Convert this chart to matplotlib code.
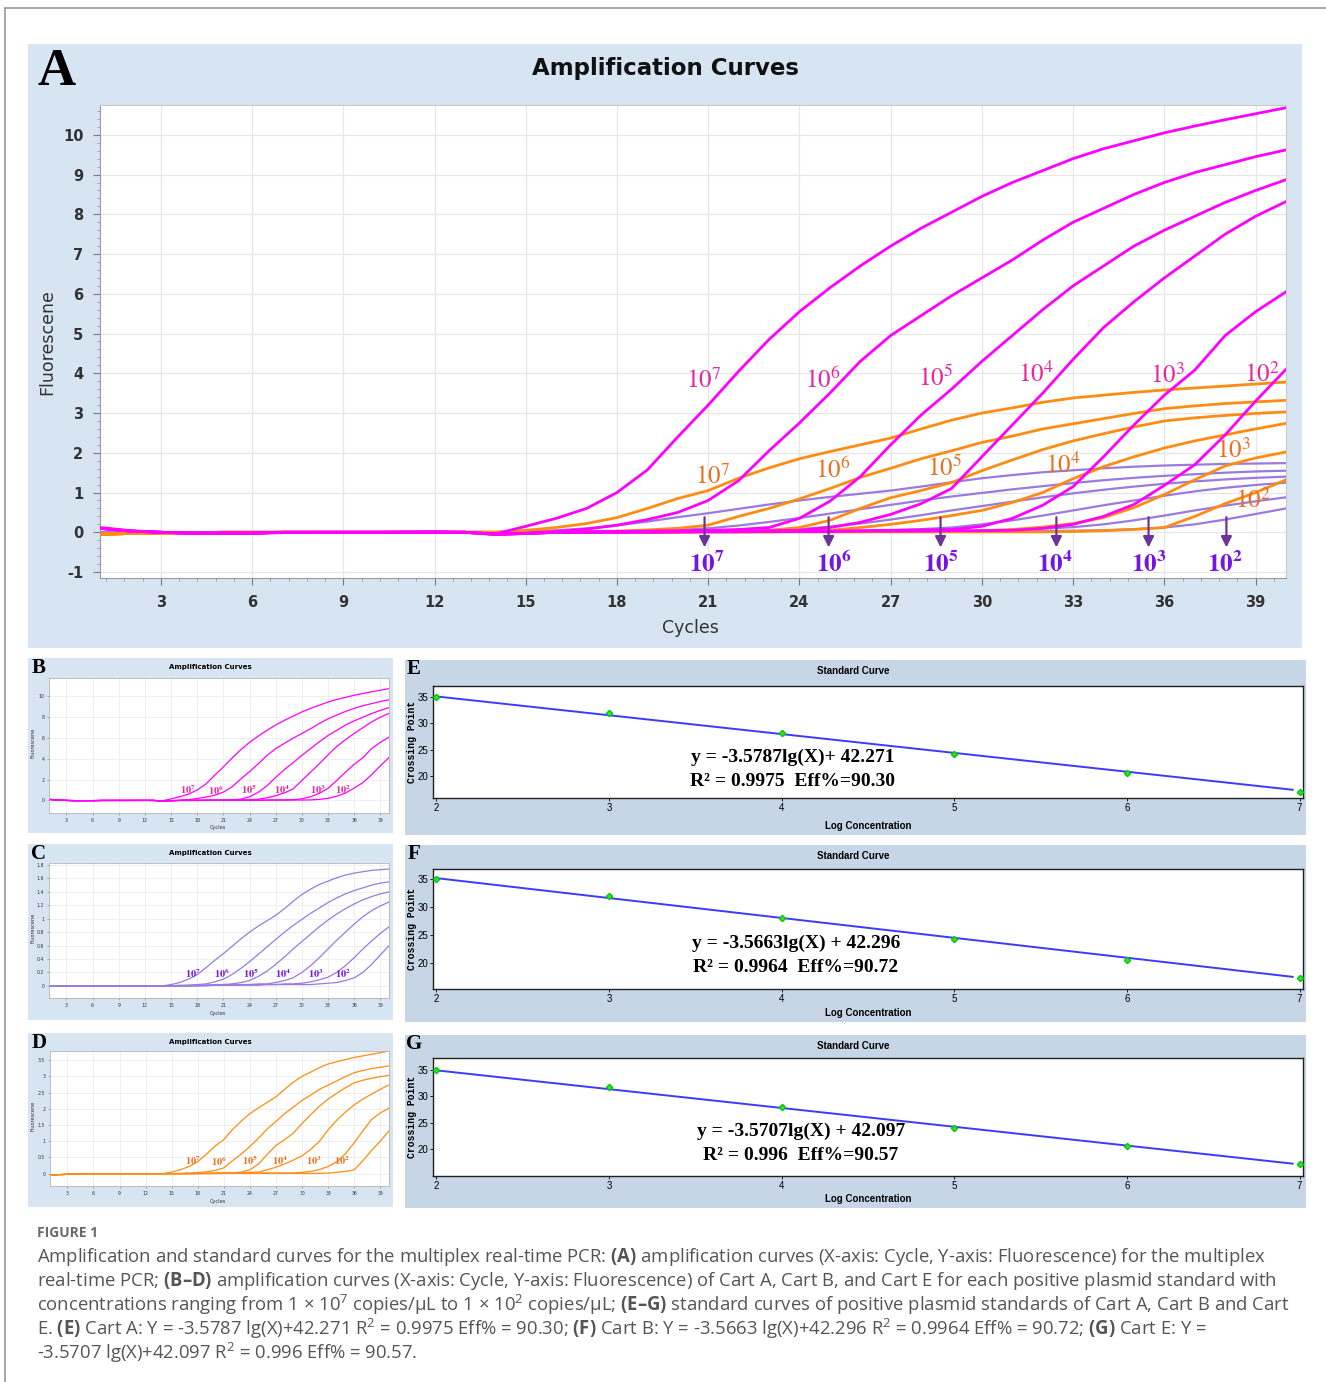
"""Recreation of a multiplex real-time PCR figure: amplification curves (A-D)
and standard curves (E-G) with the caption underneath."""

import matplotlib.pyplot as plt
from matplotlib.patches import Rectangle
from matplotlib.lines import Line2D
from matplotlib.ticker import AutoMinorLocator, FuncFormatter

W, H = 1326, 1382

plt.rcParams["mathtext.fontset"] = "custom"
plt.rcParams["mathtext.rm"] = "Open Sans"
plt.rcParams["mathtext.bf"] = "Open Sans:bold"
plt.rcParams["mathtext.it"] = "Open Sans:italic"
plt.rcParams["axes.unicode_minus"] = False

# ---------------------------------------------------------------- data
CYCLES = list(range(1, 41))
EXPONENTS = [7, 6, 5, 4, 3, 2]

# Cart A (magenta), fluorescence per cycle, 10^7 ... 10^2
CART_A = [
    [0.12, 0.04, 0.0, -0.03, -0.02, -0.03, -0.01, 0.0, 0.0, 0.0, 0.01, 0.01, 0.0, -0.04,
     0.15, 0.35, 0.6, 1.0, 1.57, 2.4, 3.2, 4.05, 4.85, 5.55, 6.15, 6.7, 7.2, 7.65, 8.05, 8.45,
     8.8, 9.1, 9.4, 9.65, 9.85, 10.05, 10.22, 10.38, 10.53, 10.68],
    [0.1, 0.03, 0.0, -0.02, -0.02, -0.02, 0.0, 0.0, 0.0, 0.0, 0.0, 0.01, 0.0, -0.05,
     -0.02, 0.02, 0.08, 0.18, 0.32, 0.5, 0.8, 1.3, 2.05, 2.75, 3.5, 4.3, 4.95, 5.45, 5.95, 6.4,
     6.85, 7.35, 7.8, 8.15, 8.5, 8.8, 9.05, 9.25, 9.45, 9.62],
    [0.1, 0.03, 0.0, -0.02, -0.02, -0.02, 0.0, 0.0, 0.0, 0.0, 0.0, 0.0, 0.0, -0.05,
     -0.03, 0.0, 0.01, 0.02, 0.03, 0.04, 0.05, 0.07, 0.12, 0.35, 0.78, 1.4, 2.2, 2.95, 3.6, 4.3,
     4.95, 5.6, 6.2, 6.7, 7.2, 7.6, 7.95, 8.3, 8.6, 8.87],
    [0.1, 0.03, 0.0, -0.02, -0.02, -0.02, 0.0, 0.0, 0.0, 0.0, 0.0, 0.0, 0.0, -0.05,
     -0.03, 0.0, 0.0, 0.01, 0.02, 0.02, 0.03, 0.03, 0.04, 0.05, 0.12, 0.25, 0.45, 0.72, 1.1, 1.9,
     2.7, 3.5, 4.35, 5.15, 5.8, 6.4, 6.95, 7.5, 7.95, 8.32],
    [0.1, 0.03, 0.0, -0.02, -0.02, -0.02, 0.0, 0.0, 0.0, 0.0, 0.0, 0.0, 0.0, -0.05,
     -0.03, 0.0, 0.0, 0.0, 0.01, 0.01, 0.02, 0.02, 0.02, 0.03, 0.03, 0.04, 0.05, 0.06, 0.07, 0.15,
     0.35, 0.68, 1.15, 1.9, 2.7, 3.45, 4.08, 4.95, 5.55, 6.05],
    [0.1, 0.03, 0.0, -0.02, -0.02, -0.02, 0.0, 0.0, 0.0, 0.0, 0.0, 0.0, 0.0, -0.05,
     -0.03, 0.0, 0.0, 0.0, 0.0, 0.01, 0.01, 0.01, 0.02, 0.02, 0.02, 0.03, 0.03, 0.03, 0.04, 0.04,
     0.05, 0.1, 0.2, 0.4, 0.7, 1.18, 1.7, 2.45, 3.3, 4.1],
]

# Cart B (purple)
CART_B = [
    [0.0, 0.0, 0.0, 0.0, 0.0, 0.0, 0.0, 0.0, 0.0, 0.0, 0.0, 0.0, 0.0, 0.0,
     0.02, 0.05, 0.1, 0.17, 0.27, 0.38, 0.48, 0.59, 0.7, 0.8, 0.89, 0.97, 1.05, 1.15, 1.26, 1.36,
     1.44, 1.51, 1.56, 1.61, 1.65, 1.68, 1.7, 1.72, 1.73, 1.74],
    [0.0, 0.0, 0.0, 0.0, 0.0, 0.0, 0.0, 0.0, 0.0, 0.0, 0.0, 0.0, 0.0, 0.0,
     0.0, 0.01, 0.01, 0.02, 0.03, 0.06, 0.1, 0.17, 0.26, 0.36, 0.47, 0.58, 0.69, 0.8, 0.9, 0.99,
     1.08, 1.16, 1.24, 1.31, 1.37, 1.42, 1.46, 1.5, 1.53, 1.55],
    [0.0, 0.0, 0.0, 0.0, 0.0, 0.0, 0.0, 0.0, 0.0, 0.0, 0.0, 0.0, 0.0, 0.0,
     0.0, 0.0, 0.01, 0.01, 0.01, 0.02, 0.02, 0.03, 0.05, 0.08, 0.14, 0.22, 0.32, 0.43, 0.55, 0.66,
     0.77, 0.88, 0.98, 1.07, 1.15, 1.22, 1.28, 1.33, 1.37, 1.4],
    [0.0, 0.0, 0.0, 0.0, 0.0, 0.0, 0.0, 0.0, 0.0, 0.0, 0.0, 0.0, 0.0, 0.0,
     0.0, 0.0, 0.0, 0.01, 0.01, 0.01, 0.02, 0.02, 0.02, 0.02, 0.03, 0.03, 0.05, 0.08, 0.12, 0.2,
     0.3, 0.42, 0.55, 0.68, 0.8, 0.92, 1.03, 1.12, 1.19, 1.25],
    [0.0, 0.0, 0.0, 0.0, 0.0, 0.0, 0.0, 0.0, 0.0, 0.0, 0.0, 0.0, 0.0, 0.0,
     0.0, 0.0, 0.0, 0.0, 0.01, 0.01, 0.01, 0.01, 0.02, 0.02, 0.02, 0.02, 0.02, 0.03, 0.03, 0.04,
     0.06, 0.09, 0.13, 0.2, 0.3, 0.42, 0.55, 0.67, 0.78, 0.88],
    [0.0, 0.0, 0.0, 0.0, 0.0, 0.0, 0.0, 0.0, 0.0, 0.0, 0.0, 0.0, 0.0, 0.0,
     0.0, 0.0, 0.0, 0.0, 0.0, 0.01, 0.01, 0.01, 0.01, 0.01, 0.01, 0.02, 0.02, 0.02, 0.02, 0.02,
     0.02, 0.03, 0.04, 0.05, 0.08, 0.12, 0.2, 0.32, 0.46, 0.6],
]

# Cart E (orange)
CART_E = [
    [-0.05, -0.03, -0.02, -0.01, 0.0, 0.0, 0.0, 0.0, 0.0, 0.0, 0.0, 0.0, 0.0, 0.0,
     0.05, 0.12, 0.22, 0.37, 0.6, 0.85, 1.05, 1.36, 1.62, 1.85, 2.03, 2.2, 2.37, 2.6, 2.82, 3.0,
     3.13, 3.27, 3.38, 3.45, 3.52, 3.58, 3.63, 3.68, 3.73, 3.78],
    [-0.05, -0.03, -0.02, -0.01, 0.0, 0.0, 0.0, 0.0, 0.0, 0.0, 0.0, 0.0, 0.0, 0.0,
     0.0, 0.01, 0.02, 0.03, 0.06, 0.1, 0.18, 0.4, 0.6, 0.84, 1.1, 1.38, 1.61, 1.85, 2.05, 2.26,
     2.42, 2.6, 2.73, 2.86, 2.99, 3.11, 3.18, 3.24, 3.28, 3.32],
    [-0.05, -0.03, -0.02, -0.01, 0.0, 0.0, 0.0, 0.0, 0.0, 0.0, 0.0, 0.0, 0.0, 0.0,
     0.0, 0.0, 0.01, 0.01, 0.01, 0.02, 0.02, 0.02, 0.05, 0.12, 0.3, 0.6, 0.87, 1.05, 1.25, 1.55,
     1.82, 2.08, 2.3, 2.48, 2.65, 2.8, 2.88, 2.94, 2.99, 3.03],
    [-0.05, -0.03, -0.02, -0.01, 0.0, 0.0, 0.0, 0.0, 0.0, 0.0, 0.0, 0.0, 0.0, 0.0,
     0.0, 0.0, 0.0, 0.01, 0.01, 0.01, 0.02, 0.02, 0.03, 0.04, 0.05, 0.12, 0.2, 0.3, 0.42, 0.55,
     0.75, 1.0, 1.35, 1.65, 1.9, 2.12, 2.3, 2.45, 2.6, 2.74],
    [-0.05, -0.03, -0.02, -0.01, 0.0, 0.0, 0.0, 0.0, 0.0, 0.0, 0.0, 0.0, 0.0, 0.0,
     0.0, 0.0, 0.0, 0.0, 0.01, 0.01, 0.01, 0.01, 0.01, 0.02, 0.02, 0.02, 0.02, 0.02, 0.02, 0.04,
     0.07, 0.13, 0.22, 0.37, 0.62, 0.95, 1.32, 1.67, 1.87, 2.02],
    [-0.05, -0.03, -0.02, -0.01, 0.0, 0.0, 0.0, 0.0, 0.0, 0.0, 0.0, 0.0, 0.0, 0.0,
     0.0, 0.0, 0.0, 0.0, 0.0, 0.0, 0.01, 0.01, 0.01, 0.01, 0.01, 0.01, 0.01, 0.01, 0.01, 0.01,
     0.01, 0.01, 0.02, 0.04, 0.07, 0.12, 0.4, 0.72, 1.0, 1.32],
]

# standard curves: log concentration vs crossing point
LOG_CONC = [2, 3, 4, 5, 6, 7]
CP_E = [35.0, 32.0, 28.2, 24.2, 20.6, 17.0]
CP_F = [35.0, 31.9, 28.1, 24.2, 20.5, 17.3]
CP_G = [35.0, 31.8, 28.0, 24.1, 20.6, 17.2]
FIT_E = (-3.5787, 42.271)
FIT_F = (-3.5663, 42.296)
FIT_G = (-3.5707, 42.097)
EQ_E = ["y = -3.5787lg(X)+ 42.271", "R² = 0.9975  Eff%=90.30"]
EQ_F = ["y = -3.5663lg(X) + 42.296", "R² = 0.9964  Eff%=90.72"]
EQ_G = ["y = -3.5707lg(X) + 42.097", "R² = 0.996  Eff%=90.57"]

CAPTION = [
    r"Amplification and standard curves for the multiplex real-time PCR: $\mathbf{(A)}$ "
    r"amplification curves (X-axis: Cycle, Y-axis: Fluorescence) for the multiplex",
    r"real-time PCR; $\mathbf{(B–D)}$ amplification curves (X-axis: Cycle, Y-axis: Fluorescence) "
    r"of Cart A, Cart B, and Cart E for each positive plasmid standard with",
    r"concentrations ranging from 1 × 10$^{7}$ copies/μL to 1 × 10$^{2}$ copies/μL; "
    r"$\mathbf{(E–G)}$ standard curves of positive plasmid standards of Cart A, Cart B and Cart",
    r"E. $\mathbf{(E)}$ Cart A: Y = -3.5787 lg(X)+42.271 R$^{2}$ = 0.9975 Eff% = 90.30; "
    r"$\mathbf{(F)}$ Cart B: Y = -3.5663 lg(X)+42.296 R$^{2}$ = 0.9964 Eff% = 90.72; "
    r"$\mathbf{(G)}$ Cart E: Y =",
    r"-3.5707 lg(X)+42.097 R$^{2}$ = 0.996 Eff% = 90.57.",
]

# ---------------------------------------------------------------- style
MAGENTA, ORANGE, PURPLE = "#ff00ff", "#ff8c12", "#9a7ae0"
MAG_TXT, ORA_TXT, PUR_TXT = "#e8259a", "#e8701e", "#7415e6"
ARROW_C = "#6a3596"
BG_A = "#d7e4f1"
BG_STD = "#c6d6e6"

fig = plt.figure(figsize=(W / 100, H / 100), dpi=100)


def px_axes(x0, y0, x1, y1):
    return fig.add_axes([x0 / W, 1 - y1 / H, (x1 - x0) / W, (y1 - y0) / H])


def px_rect(x0, y0, x1, y1, color):
    fig.add_artist(Rectangle((x0 / W, 1 - y1 / H), (x1 - x0) / W, (y1 - y0) / H,
                             transform=fig.transFigure, facecolor=color,
                             edgecolor="none", zorder=-5))


def px_text(x, y, s, **kw):
    return fig.text(x / W, 1 - y / H, s, **kw)


def draw_curves(ax, lw):
    for ys in CART_B:
        ax.plot(CYCLES, ys, color=PURPLE, lw=lw * 0.8, zorder=3)
    for ys in CART_E:
        ax.plot(CYCLES, ys, color=ORANGE, lw=lw, zorder=4)
    for ys in CART_A:
        ax.plot(CYCLES, ys, color=MAGENTA, lw=lw, zorder=5)


def exp_label(ax, x, y, e, color, size, bold=False):
    s = rf"$\mathbf{{10^{{{e}}}}}$" if bold else rf"$10^{{{e}}}$"
    ax.text(x, y, s, color=color, fontsize=size, ha="center", va="center",
            math_fontfamily="stix", zorder=6)


# figure frame
fig.add_artist(Line2D([5 / W, 5 / W], [0, 1 - 8 / H], transform=fig.transFigure,
                      color="#9a9a9a", lw=1.2))
fig.add_artist(Line2D([5 / W, 1], [1 - 8 / H, 1 - 8 / H], transform=fig.transFigure,
                      color="#9a9a9a", lw=1.2))

# ---------------------------------------------------------------- panel A
px_rect(28, 44, 1302, 648, BG_A)
px_text(57, 72, "A", fontsize=38, fontweight="bold", family="Liberation Serif",
        ha="center", va="center")
px_text(665, 69, "Amplification Curves", fontsize=16.5, fontweight="bold",
        ha="center", va="center", color="#111111")

ax = px_axes(100, 105, 1286, 578)
draw_curves(ax, 2.0)
ax.set_xlim(1, 40)
ax.set_ylim(-1.15, 10.75)
ax.set_xticks(range(3, 40, 3))
ax.set_yticks(range(-1, 11))
ax.xaxis.set_minor_locator(AutoMinorLocator(5))
ax.yaxis.set_minor_locator(AutoMinorLocator(5))
ax.grid(True, color="#e6e6e6", lw=0.9, zorder=0)
ax.tick_params(which="major", length=5, color="#7a7a7a", labelsize=10.5,
               labelcolor="#333333", pad=7)
ax.tick_params(which="minor", length=2.5, color="#9a9a9a")
for lab in ax.get_xticklabels() + ax.get_yticklabels():
    lab.set_fontweight("bold")
for side in ["top", "right"]:
    ax.spines[side].set_color("#c8c8c8")
for side in ["left", "bottom"]:
    ax.spines[side].set_color("#9a9a9a")
px_text(47, 342, "Fluorescene", rotation=90, fontsize=12.5, color="#333333",
        ha="center", va="center")
px_text(690, 628, "Cycles", fontsize=12.5, color="#333333", ha="center", va="center")

mag_lx = [20.85, 24.76, 28.48, 31.76, 36.1, 39.2]
mag_ly = [3.83, 3.83, 3.88, 3.98, 3.95, 3.98]
ora_lx = [21.15, 25.1, 28.77, 32.65, 38.27, 38.9]
ora_ly = [1.41, 1.56, 1.61, 1.69, 2.07, 0.81]
pur_lx = [20.95, 25.12, 28.64, 32.39, 35.48, 38.0]
arrow_x = [20.88, 24.96, 28.64, 32.45, 35.48, 38.04]
for i, e in enumerate(EXPONENTS):
    exp_label(ax, mag_lx[i], mag_ly[i], e, MAG_TXT, 18)
    exp_label(ax, ora_lx[i], ora_ly[i], e, ORA_TXT, 18)
    exp_label(ax, pur_lx[i], -0.8, e, PUR_TXT, 18, bold=True)
    ax.annotate("", xy=(arrow_x[i], -0.45), xytext=(arrow_x[i], 0.45),
                arrowprops=dict(arrowstyle="-|>", color=ARROW_C, lw=1.6,
                                mutation_scale=16), zorder=7)

# ---------------------------------------------------------------- panels B-D
small = [
    ("B", 658, 833, (49, 678, 389, 813), (-1.2, 11.7), [0, 2, 4, 6, 8, 10],
     CART_A, MAGENTA, MAG_TXT, [16.9, 20.2, 24.0, 27.7, 31.8, 34.7], 1.0),
    ("C", 844, 1020, (49, 863, 389, 998), (-0.18, 1.83), [0, 0.2, 0.4, 0.6, 0.8, 1, 1.2, 1.4, 1.6, 1.8],
     CART_B, PURPLE, PUR_TXT, [17.5, 20.8, 24.2, 27.8, 31.6, 34.7], 0.19),
    ("D", 1033, 1207, (50, 1051, 389, 1186), (-0.38, 3.78), [0, 0.5, 1, 1.5, 2, 2.5, 3, 3.5],
     CART_E, ORANGE, ORA_TXT, [17.5, 20.5, 24.0, 27.5, 31.4, 34.6], 0.39),
]
for letter, top, bot, box, ylim, yticks, curves, col, tcol, lxs, ly in small:
    px_rect(28, top, 393, bot, BG_A)
    px_text(39, top + 10, letter, fontsize=15, fontweight="bold", family="Liberation Serif",
            ha="center", va="center")
    px_text(210, top + 9, "Amplification Curves", fontsize=5, fontweight="bold",
            ha="center", va="center")
    sax = px_axes(*box)
    for ys in curves:
        sax.plot(CYCLES, ys, color=col, lw=0.9)
    sax.set_xlim(1, 40)
    sax.set_ylim(*ylim)
    sax.set_xticks(range(3, 40, 3))
    sax.set_yticks(yticks)
    sax.yaxis.set_major_formatter(FuncFormatter(lambda v, p: f"{v:g}"))
    sax.grid(True, color="#ececec", lw=0.6)
    sax.tick_params(length=1.5, width=0.5, labelsize=3.3, pad=2, color="#888888",
                    labelcolor="#333333")
    for sp in sax.spines.values():
        sp.set_color("#b5b5b5")
        sp.set_linewidth(0.6)
    for i, e in enumerate(EXPONENTS):
        exp_label(sax, lxs[i], ly, e, tcol, 7.5, bold=True)
    px_text(218, bot - 6, "Cycles", fontsize=3.6, ha="center", va="center", color="#333333")
    px_text(33, (box[1] + box[3]) / 2 - 3, "Fluorescene", rotation=90, fontsize=3.6,
            ha="center", va="center", color="#333333")

# ---------------------------------------------------------------- panels E-G
std = [
    ("E", 660, 835, (433, 686, 1303, 798), (15.8, 37.1), CP_E, FIT_E, EQ_E, (793, 757, 781)),
    ("F", 845, 1022, (433, 869, 1303, 989), (15.3, 36.8), CP_F, FIT_F, EQ_F, (796, 943, 967)),
    ("G", 1035, 1208, (433, 1058, 1303, 1176), (14.9, 37.3), CP_G, FIT_G, EQ_G, (801, 1131, 1155)),
]
for letter, top, bot, box, ylim, cps, fit, eq, eqpos in std:
    px_rect(405, top, 1306, bot, BG_STD)
    px_text(414, top + 9, letter, fontsize=15, fontweight="bold", family="Liberation Serif",
            ha="center", va="center")
    px_text(853, top + 11, "Standard Curve", fontsize=7, fontweight="bold",
            family="Liberation Sans", ha="center", va="center")
    sax = px_axes(*box)
    slope, icpt = fit
    x_fit = [LOG_CONC[0], LOG_CONC[-1] - 0.04]
    sax.plot(x_fit, [slope * x + icpt for x in x_fit], color="#3b3bff", lw=1.4, zorder=3)
    sax.plot(LOG_CONC, cps, ls="none", marker="D", ms=3.2, color="#22ee22",
             markeredgecolor="#10c010", zorder=4, clip_on=False)
    sax.set_xlim(1.98, 7.02)
    sax.set_ylim(*ylim)
    sax.set_xticks(LOG_CONC)
    sax.set_yticks([20, 25, 30, 35])
    sax.tick_params(length=2, width=0.6, labelsize=7, pad=1.5)
    for lab in sax.get_xticklabels() + sax.get_yticklabels():
        lab.set_family("Liberation Sans")
    for sp in sax.spines.values():
        sp.set_color("#202020")
        sp.set_linewidth(1.0)
    px_text(868, bot - 9, "Log Concentration", fontsize=7, fontweight="bold",
            family="Liberation Sans", ha="center", va="center")
    px_text(412, (box[1] + box[3]) / 2, "Crossing Point", rotation=90, fontsize=7,
            fontweight="bold", family="Liberation Mono", ha="center", va="center")
    cx, y1, y2 = eqpos
    px_text(cx, y1, eq[0], fontsize=14, fontweight="bold", family="Liberation Serif",
            ha="center", va="center")
    px_text(cx, y2, eq[1], fontsize=14, fontweight="bold", family="Liberation Serif",
            ha="center", va="center")

# ---------------------------------------------------------------- caption
px_text(37, 1233, "FIGURE 1", fontsize=10, fontweight="bold", family="Open Sans",
        color="#6a6a6a", ha="left", va="center")
for i, line in enumerate(CAPTION):
    px_text(37, 1257 + 24 * i, line, fontsize=13.35, family="Open Sans", color="#555555",
            ha="left", va="center", math_fontfamily="custom")

fig.savefig("out.png", dpi=100)
